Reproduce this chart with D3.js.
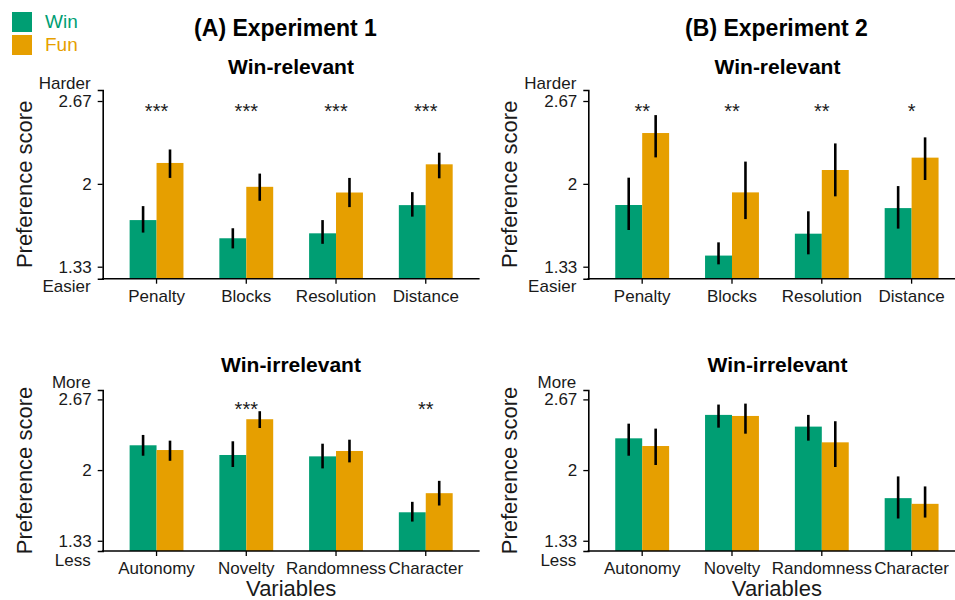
<!DOCTYPE html>
<html>
<head>
<meta charset="utf-8">
<script src="https://cdn.jsdelivr.net/npm/d3@7"></script>
<style>
  html, body { margin: 0; padding: 0; background: #fff; }
  svg { display: block; font-family: "Liberation Sans", Arial, Helvetica, sans-serif; }
</style>
</head>
<body>
<svg id="chart" width="955" height="600"></svg>
<script>
// ---------------- DATA ----------------
const series = ["Win", "Fun"];
const categoriesRelevant = ["Penalty", "Blocks", "Resolution", "Distance"];
const categoriesIrrelevant = ["Autonomy", "Novelty", "Randomness", "Character"];

const yTickValues = [1.33, 2, 2.67];
const yTickLabels = ["1.33", "2", "2.67"];
const relevantEnds = ["Harder", "Easier"];
const irrelevantEnds = ["More", "Less"];

// Experiment 1, win-relevant
const exp1RelWin    = [1.707, 1.560, 1.600, 1.828];
const exp1RelWinLo  = [1.606, 1.478, 1.515, 1.735];
const exp1RelWinHi  = [1.820, 1.641, 1.707, 1.933];
const exp1RelFun    = [2.169, 1.976, 1.930, 2.158];
const exp1RelFunLo  = [2.048, 1.863, 1.812, 2.045];
const exp1RelFunHi  = [2.278, 2.083, 2.048, 2.252];
const exp1RelStars  = ["***", "***", "***", "***"];

// Experiment 1, win-irrelevant
const exp1IrrWin    = [2.235, 2.143, 2.130, 1.600];
const exp1IrrWinLo  = [2.136, 2.029, 2.016, 1.512];
const exp1IrrWinHi  = [2.333, 2.273, 2.250, 1.699];
const exp1IrrFun    = [2.190, 2.482, 2.181, 1.781];
const exp1IrrFunLo  = [2.088, 2.399, 2.073, 1.664];
const exp1IrrFunHi  = [2.279, 2.558, 2.288, 1.898];
const exp1IrrStars  = ["", "***", "", "**"];

// Experiment 2, win-relevant
const exp2RelWin    = [1.829, 1.420, 1.597, 1.804];
const exp2RelWinLo  = [1.627, 1.349, 1.430, 1.638];
const exp2RelWinHi  = [2.050, 1.527, 1.778, 1.982];
const exp2RelFun    = [2.411, 1.931, 2.112, 2.212];
const exp2RelFunLo  = [2.214, 1.715, 1.899, 2.031];
const exp2RelFunHi  = [2.556, 2.180, 2.327, 2.376];
const exp2RelStars  = ["**", "**", "**", "*"];

// Experiment 2, win-irrelevant
const exp2IrrWin    = [2.301, 2.523, 2.412, 1.734];
const exp2IrrWinLo  = [2.136, 2.402, 2.279, 1.541];
const exp2IrrWinHi  = [2.440, 2.621, 2.523, 1.940];
const exp2IrrFun    = [2.228, 2.513, 2.263, 1.680];
const exp2IrrFunLo  = [2.048, 2.345, 2.029, 1.550];
const exp2IrrFunHi  = [2.393, 2.630, 2.463, 1.845];
const exp2IrrStars  = ["", "", "", ""];

// ---------------- STYLE / LAYOUT ----------------
const colors = { Win: "#009E73", Fun: "#E69F00" };
const yDomain = [1.233, 2.759];
const textCol = "#1a1a1a";

const svg = d3.select("#chart");

function buildRows(cats, win, winLo, winHi, fun, funLo, funHi, stars) {
  return cats.map((c, i) => ({
    cat: c,
    star: stars[i],
    vals: [
      { s: "Win", v: win[i], lo: winLo[i], hi: winHi[i] },
      { s: "Fun", v: fun[i], lo: funLo[i], hi: funHi[i] }
    ]
  }));
}

const panels = [
  { x0: 102.7, x1: 479.6, top: 90, bottom: 278.7, cats: categoriesRelevant, ends: relevantEnds,
    sub: "Win-relevant", subY: 74, subX: 291,
    rows: buildRows(categoriesRelevant, exp1RelWin, exp1RelWinLo, exp1RelWinHi, exp1RelFun, exp1RelFunLo, exp1RelFunHi, exp1RelStars),
    ylabX: 24 },
  { x0: 102.7, x1: 479.6, top: 390, bottom: 551, cats: categoriesIrrelevant, ends: irrelevantEnds,
    sub: "Win-irrelevant", subY: 372, subX: 291,
    rows: buildRows(categoriesIrrelevant, exp1IrrWin, exp1IrrWinLo, exp1IrrWinHi, exp1IrrFun, exp1IrrFunLo, exp1IrrFunHi, exp1IrrStars),
    ylabX: 24, xtitle: "Variables" },
  { x0: 588.3, x1: 965.5, top: 90, bottom: 278.7, cats: categoriesRelevant, ends: relevantEnds,
    sub: "Win-relevant", subY: 74, subX: 777.5,
    rows: buildRows(categoriesRelevant, exp2RelWin, exp2RelWinLo, exp2RelWinHi, exp2RelFun, exp2RelFunLo, exp2RelFunHi, exp2RelStars),
    ylabX: 509 },
  { x0: 588.3, x1: 965.5, top: 390, bottom: 551, cats: categoriesIrrelevant, ends: irrelevantEnds,
    sub: "Win-irrelevant", subY: 372, subX: 777.5,
    rows: buildRows(categoriesIrrelevant, exp2IrrWin, exp2IrrWinLo, exp2IrrWinHi, exp2IrrFun, exp2IrrFunLo, exp2IrrFunHi, exp2IrrStars),
    ylabX: 509, xtitle: "Variables" }
];

panels.forEach(p => {
  const x = d3.scaleBand().domain(p.cats).range([p.x0, p.x1]).paddingInner(0.4).paddingOuter(0.3);
  const xs = d3.scaleBand().domain(series).range([0, x.bandwidth()]).padding(0);
  const y = d3.scaleLinear().domain(yDomain).range([p.bottom, p.top]);

  const g = svg.append("g");

  // bars
  const grp = g.selectAll("g.cat").data(p.rows).join("g")
    .attr("transform", d => `translate(${x(d.cat)},0)`);
  grp.selectAll("rect").data(d => d.vals).join("rect")
    .attr("x", d => xs(d.s))
    .attr("width", xs.bandwidth())
    .attr("y", d => y(d.v))
    .attr("height", d => p.bottom - y(d.v))
    .attr("fill", d => colors[d.s]);
  grp.selectAll("line.err").data(d => d.vals).join("line")
    .attr("class", "err")
    .attr("x1", d => xs(d.s) + xs.bandwidth() / 2)
    .attr("x2", d => xs(d.s) + xs.bandwidth() / 2)
    .attr("y1", d => y(d.lo))
    .attr("y2", d => y(d.hi))
    .attr("stroke", "#000")
    .attr("stroke-width", 2.6);
  grp.append("text")
    .attr("x", x.bandwidth() / 2)
    .attr("y", y(yTickValues[2]) + 17)
    .attr("text-anchor", "middle")
    .attr("font-size", 20)
    .attr("fill", textCol)
    .text(d => d.star);

  // y axis
  const ya = d3.axisLeft(y).tickValues(yTickValues)
    .tickFormat((d, i) => yTickLabels[i]).tickSizeOuter(0).tickSize(5).tickPadding(6);
  const yg = g.append("g").attr("transform", `translate(${p.x0},0)`).call(ya);
  yg.select(".domain").attr("stroke", "#000").attr("stroke-width", 1.6);
  yg.selectAll(".tick line").attr("stroke", "#000").attr("stroke-width", 1.3);
  yg.selectAll(".tick text").attr("font-size", 17).attr("fill", textCol)
    .attr("font-family", "Liberation Sans, Arial, sans-serif");

  // end labels
  g.append("text").attr("x", p.x0 - 12).attr("y", y(yTickValues[2]) - 17.5)
    .attr("dy", "0.35em").attr("text-anchor", "end").attr("font-size", 17).attr("fill", textCol)
    .text(p.ends[0]);
  g.append("text").attr("x", p.x0 - 12).attr("y", y(yTickValues[0]) + 19.5)
    .attr("dy", "0.35em").attr("text-anchor", "end").attr("font-size", 17).attr("fill", textCol)
    .text(p.ends[1]);

  // x axis
  const xa = d3.axisBottom(x).tickSizeOuter(0).tickSize(5).tickPadding(6);
  const xg = g.append("g").attr("transform", `translate(0,${p.bottom})`).call(xa);
  xg.select(".domain").attr("stroke", "#000").attr("stroke-width", 1.6)
    .attr("d", `M${p.x0 - 0.8},0H${p.x1}`);
  xg.selectAll(".tick line").attr("stroke", "#000").attr("stroke-width", 1.3);
  xg.selectAll(".tick text").attr("font-size", 17).attr("fill", textCol)
    .attr("font-family", "Liberation Sans, Arial, sans-serif");

  // y title
  g.append("text")
    .attr("transform", `translate(${p.ylabX + 8},${(p.top + p.bottom) / 2}) rotate(-90)`)
    .attr("text-anchor", "middle")
    .attr("font-size", 22)
    .attr("fill", textCol)
    .text("Preference score");

  // subtitle
  g.append("text").attr("x", p.subX).attr("y", p.subY)
    .attr("text-anchor", "middle").attr("font-size", 21).attr("font-weight", "bold")
    .attr("fill", "#000").text(p.sub);

  if (p.xtitle) {
    g.append("text").attr("x", (p.x0 + p.x1) / 2).attr("y", 595.5)
      .attr("text-anchor", "middle").attr("font-size", 22).attr("fill", textCol)
      .text(p.xtitle);
  }
});

// main titles
svg.append("text").attr("x", 285.5).attr("y", 36).attr("text-anchor", "middle")
  .attr("font-size", 23).attr("font-weight", "bold").text("(A) Experiment 1");
svg.append("text").attr("x", 776.5).attr("y", 36).attr("text-anchor", "middle")
  .attr("font-size", 23).attr("font-weight", "bold").text("(B) Experiment 2");

// legend
const lg = svg.append("g");
series.forEach((s, i) => {
  lg.append("rect").attr("x", 12).attr("y", 12 + i * 23).attr("width", 20).attr("height", 20)
    .attr("fill", colors[s]);
  lg.append("text").attr("x", 45).attr("y", 28 + i * 23).attr("font-size", 19)
    .attr("fill", colors[s]).text(s);
});
</script>
</body>
</html>
